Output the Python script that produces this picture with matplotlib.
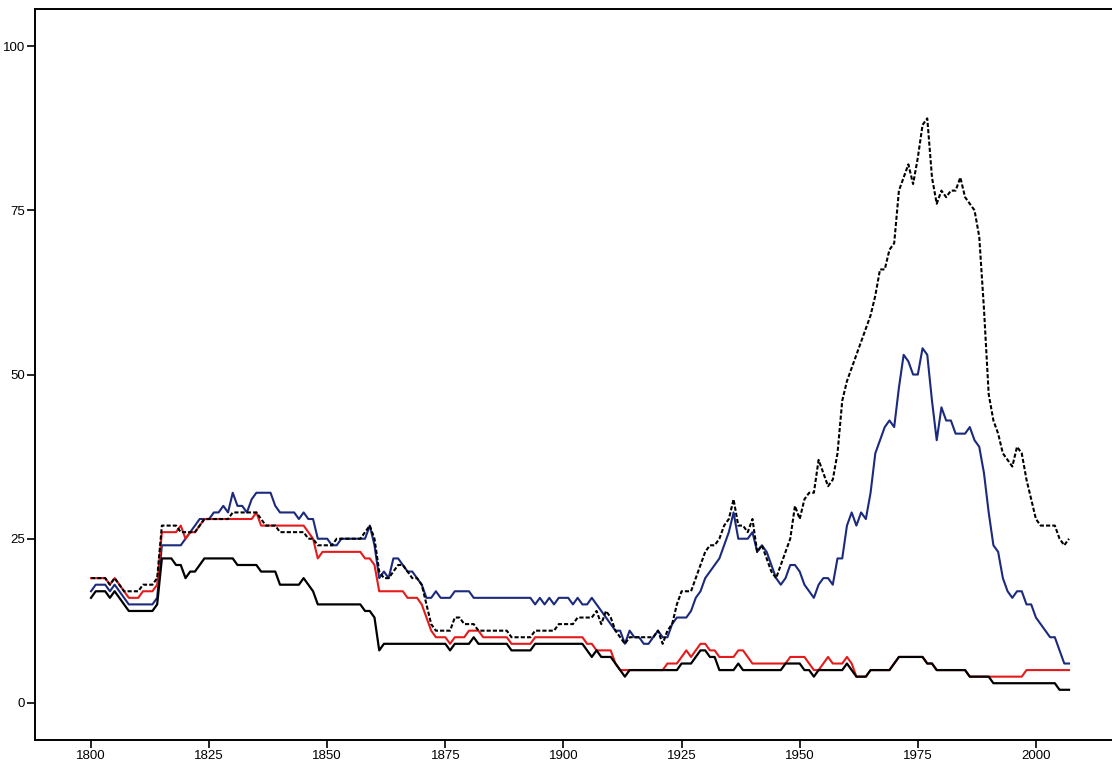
import numpy as np
from matplotlib import pyplot as plt
from matplotlib import rcParams
rcParams["font.family"] = "sans-serif"
rcParams["font.sans-serif"] = ["Liberation Sans", "DejaVu Sans"]
rcParams["font.size"] = 9.5


YEARS = np.arange(1800, 2008)

# one row per decade
BLUE = [
    17, 18, 18, 18, 17, 18, 17, 16, 15, 15,
    15, 15, 15, 15, 16, 24, 24, 24, 24, 24,
    25, 26, 27, 28, 28, 28, 29, 29, 30, 29,
    32, 30, 30, 29, 31, 32, 32, 32, 32, 30,
    29, 29, 29, 29, 28, 29, 28, 28, 25, 25,
    25, 24, 24, 25, 25, 25, 25, 25, 25, 27,
    24, 19, 20, 19, 22, 22, 21, 20, 20, 19,
    18, 16, 16, 17, 16, 16, 16, 17, 17, 17,
    17, 16, 16, 16, 16, 16, 16, 16, 16, 16,
    16, 16, 16, 16, 15, 16, 15, 16, 15, 16,
    16, 16, 15, 16, 15, 15, 16, 15, 14, 13,
    12, 11, 11, 9, 11, 10, 10, 9, 9, 10,
    11, 10, 10, 12, 13, 13, 13, 14, 16, 17,
    19, 20, 21, 22, 24, 26, 29, 25, 25, 25,
    26, 23, 24, 23, 21, 19, 18, 19, 21, 21,
    20, 18, 17, 16, 18, 19, 19, 18, 22, 22,
    27, 29, 27, 29, 28, 32, 38, 40, 42, 43,
    42, 48, 53, 52, 50, 50, 54, 53, 46, 40,
    45, 43, 43, 41, 41, 41, 42, 40, 39, 35,
    29, 24, 23, 19, 17, 16, 17, 17, 15, 15,
    13, 12, 11, 10, 10, 8, 6, 6,
]

RED = [
    19, 19, 19, 19, 18, 19, 18, 17, 16, 16,
    16, 17, 17, 17, 18, 26, 26, 26, 26, 27,
    25, 26, 26, 27, 28, 28, 28, 28, 28, 28,
    28, 28, 28, 28, 28, 29, 27, 27, 27, 27,
    27, 27, 27, 27, 27, 27, 26, 25, 22, 23,
    23, 23, 23, 23, 23, 23, 23, 23, 22, 22,
    21, 17, 17, 17, 17, 17, 17, 16, 16, 16,
    15, 13, 11, 10, 10, 10, 9, 10, 10, 10,
    11, 11, 11, 10, 10, 10, 10, 10, 10, 9,
    9, 9, 9, 9, 10, 10, 10, 10, 10, 10,
    10, 10, 10, 10, 10, 9, 9, 8, 8, 8,
    8, 6, 5, 5, 5, 5, 5, 5, 5, 5,
    5, 5, 6, 6, 6, 7, 8, 7, 8, 9,
    9, 8, 8, 7, 7, 7, 7, 8, 8, 7,
    6, 6, 6, 6, 6, 6, 6, 6, 7, 7,
    7, 7, 6, 5, 5, 6, 7, 6, 6, 6,
    7, 6, 4, 4, 4, 5, 5, 5, 5, 5,
    6, 7, 7, 7, 7, 7, 7, 6, 6, 5,
    5, 5, 5, 5, 5, 5, 4, 4, 4, 4,
    4, 4, 4, 4, 4, 4, 4, 4, 5, 5,
    5, 5, 5, 5, 5, 5, 5, 5,
]

BLACK = [
    16, 17, 17, 17, 16, 17, 16, 15, 14, 14,
    14, 14, 14, 14, 15, 22, 22, 22, 21, 21,
    19, 20, 20, 21, 22, 22, 22, 22, 22, 22,
    22, 21, 21, 21, 21, 21, 20, 20, 20, 20,
    18, 18, 18, 18, 18, 19, 18, 17, 15, 15,
    15, 15, 15, 15, 15, 15, 15, 15, 14, 14,
    13, 8, 9, 9, 9, 9, 9, 9, 9, 9,
    9, 9, 9, 9, 9, 9, 8, 9, 9, 9,
    9, 10, 9, 9, 9, 9, 9, 9, 9, 8,
    8, 8, 8, 8, 9, 9, 9, 9, 9, 9,
    9, 9, 9, 9, 9, 8, 7, 8, 7, 7,
    7, 6, 5, 4, 5, 5, 5, 5, 5, 5,
    5, 5, 5, 5, 5, 6, 6, 6, 7, 8,
    8, 7, 7, 5, 5, 5, 5, 6, 5, 5,
    5, 5, 5, 5, 5, 5, 5, 6, 6, 6,
    6, 5, 5, 4, 5, 5, 5, 5, 5, 5,
    6, 5, 4, 4, 4, 5, 5, 5, 5, 5,
    6, 7, 7, 7, 7, 7, 7, 6, 6, 5,
    5, 5, 5, 5, 5, 5, 4, 4, 4, 4,
    4, 3, 3, 3, 3, 3, 3, 3, 3, 3,
    3, 3, 3, 3, 3, 2, 2, 2,
]

DASHED = [
    19, 19, 19, 19, 18, 19, 18, 17, 17, 17,
    17, 18, 18, 18, 19, 27, 27, 27, 27, 26,
    26, 26, 26, 27, 28, 28, 28, 28, 28, 28,
    29, 29, 29, 29, 29, 29, 28, 27, 27, 27,
    26, 26, 26, 26, 26, 26, 25, 25, 24, 24,
    24, 24, 25, 25, 25, 25, 25, 25, 26, 27,
    25, 20, 19, 19, 20, 21, 21, 20, 19, 19,
    18, 15, 12, 11, 11, 11, 11, 13, 13, 12,
    12, 12, 11, 11, 11, 11, 11, 11, 11, 10,
    10, 10, 10, 10, 11, 11, 11, 11, 11, 12,
    12, 12, 12, 13, 13, 13, 13, 14, 12, 14,
    13, 11, 10, 9, 10, 10, 10, 10, 10, 10,
    11, 9, 11, 12, 15, 17, 17, 17, 19, 21,
    23, 24, 24, 25, 27, 28, 31, 27, 27, 26,
    28, 23, 24, 22, 20, 19, 21, 23, 25, 30,
    28, 31, 32, 32, 37, 35, 33, 34, 38, 46,
    49, 51, 53, 55, 57, 59, 62, 66, 66, 69,
    70, 78, 80, 82, 79, 83, 88, 89, 80, 76,
    78, 77, 78, 78, 80, 77, 76, 75, 71, 60,
    47, 43, 41, 38, 37, 36, 39, 38, 34, 31,
    28, 27, 27, 27, 27, 25, 24, 25,
]

X_TICKS = [1800, 1825, 1850, 1875, 1900, 1925, 1950, 1975, 2000]
Y_TICKS = [0, 25, 50, 75, 100]


def plot_series():
    fig = plt.figure(figsize=(11.12, 7.62), dpi=100)
    ax = fig.add_axes([0.0315, 0.029, 0.9685, 0.959])

    ax.plot(YEARS, BLUE, color="#1b2a7c", lw=1.5, zorder=2)
    ax.plot(YEARS, RED, color="#e51a1a", lw=1.5, zorder=3)
    ax.plot(YEARS, BLACK, color="black", lw=1.6, zorder=4)
    ax.plot(YEARS, DASHED, color="black", lw=1.5, linestyle=(0, (2, 1)), zorder=5)

    ax.set_xlim(1788.15, 2016.1)
    ax.set_ylim(-5.63, 105.63)
    ax.set_xticks(X_TICKS)
    ax.set_yticks(Y_TICKS)

    for side in ["left", "bottom", "top"]:
        ax.spines[side].set_linewidth(1.4)
    ax.spines["right"].set_visible(False)
    ax.tick_params(direction="out", length=6, width=1.2, pad=1, labelsize=9.5)

    plt.savefig("out.png", dpi=100)


plot_series()
